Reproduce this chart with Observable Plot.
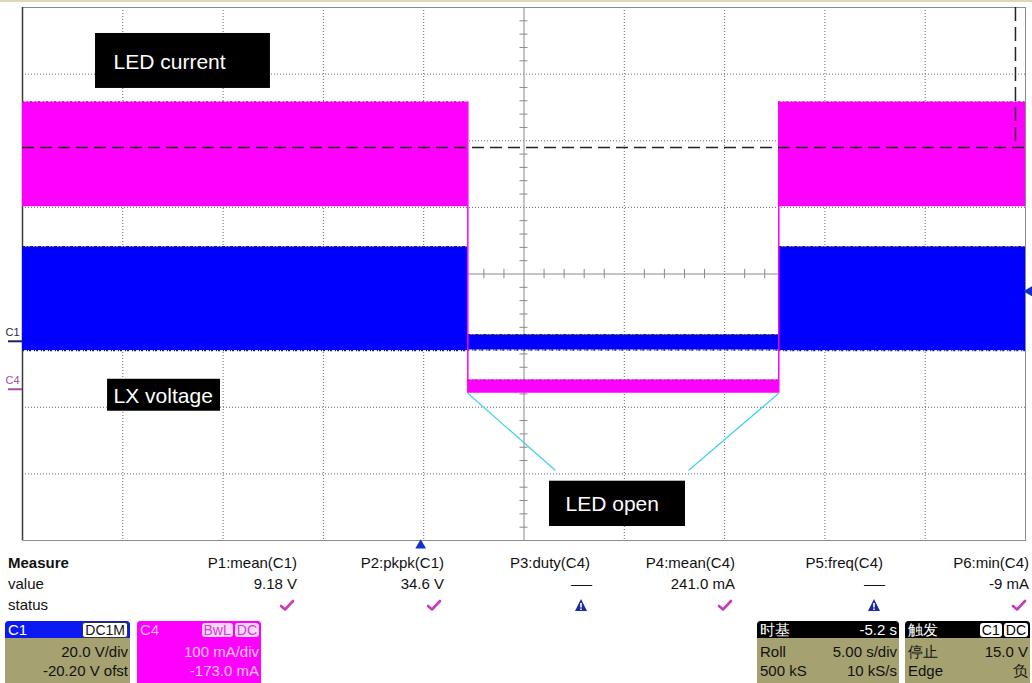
<!DOCTYPE html>
<html><head><meta charset="utf-8">
<script src="https://cdn.jsdelivr.net/npm/d3@7"></script>
<script src="https://cdn.jsdelivr.net/npm/@observablehq/plot@0.6"></script>
<style>
body{margin:0;background:#fff;font-family:"Liberation Sans",Arial,sans-serif;}
#wrap{position:relative;width:1032px;height:683px;overflow:hidden;background:#fff;}
#topline{position:absolute;left:0;top:0;width:1032px;height:2px;background:#dcd9ae;}
#scope{position:absolute;left:0;top:0;}
.t{position:absolute;font-size:15px;line-height:18px;color:#111;white-space:nowrap;}
.r{text-align:right;}
.box{position:absolute;top:621px;height:64px;border-radius:4px 4px 0 0;overflow:hidden;}
.hdr{position:absolute;left:0;right:0;top:0;height:17px;}
.ln{position:absolute;left:3px;right:2px;font-size:15px;line-height:17px;white-space:nowrap;}
.ln .a{position:absolute;left:0;}
.ln .b{position:absolute;right:0;}
.pill{display:inline-block;border-radius:3px;padding:0 2px;font-size:14px;line-height:14px;margin-left:2px;}
</style></head><body><div id="wrap"><div id="topline"></div><div id="scope"></div></div>
<script>
// ---------------- data ----------------
const gridTimes = [0,5,10,15,20,25,30,35,40,45,50];      // s (5 s/div)
const gridDivs = [-4,-3,-2,-1,0,1,2,3,4];                // divisions
const segStart = [0, 22.2, 37.7];                        // s
const segEnd   = [22.2, 37.7, 50];                       // s
const c1Top    = [28.3, 1.9, 28.3];                      // V  (LX voltage)
const c1Bottom = [-2.8, -2.6, -2.8];                     // V
const c4Top    = [431, 14, 431];                         // mA (LED current)
const c4Bottom = [274, -6, 274];                         // mA
const c1Scale = 20.0, c1Offset = -20.2;                  // V/div, V ofst
const c4Scale = 100, c4Offset = -173.0;                  // mA/div, mA ofst
const trigLevel = 15.0;                                  // V on C1
const trigTime = 19.85;                                  // s
const cursorLevel = 1.9;                                 // div
const cursorTime = 49.5;                                 // s
const labelText = ["LED current","LX voltage","LED open"];
const labelT1 = [3.64, 4.24, 26.27];
const labelT2 = [12.36, 9.87, 33.05];
const labelV1 = [3.61, -1.58, -3.11];
const labelV2 = [2.785, -2.06, -3.79];
const labelTx = [4.54, 4.54, 27.07];
const labelTy = [3.18, -1.83, -3.46];
const calloutT1 = [22.2, 37.7];
const calloutT2 = [26.57, 33.2];
const calloutV2 = [-2.95, -2.95];
const measureNames  = ["P1:mean(C1)","P2:pkpk(C1)","P3:duty(C4)","P4:mean(C4)","P5:freq(C4)","P6:min(C4)"];
const measureValues = ["9.18 V","34.6 V","---","241.0 mA","---","-9 mA"];
const measureStatus = ["ok","ok","warn","ok","warn","ok"];

// ---------------- helpers ----------------
const c1Div = v => (v + c1Offset) / c1Scale;
const c4Div = v => (v + c4Offset) / c4Scale;
const segs = segStart.map((s,i) => ({t1:s, t2:segEnd[i],
  c1a:c1Div(c1Top[i]), c1b:c1Div(c1Bottom[i]), c4a:c4Div(c4Top[i]), c4b:c4Div(c4Bottom[i])}));
const labels = labelText.map((s,i)=>({s, t1:labelT1[i], t2:labelT2[i], v1:labelV1[i], v2:labelV2[i], tx:labelTx[i], ty:labelTy[i]}));
const callouts = calloutT1.map((t,i)=>({t1:t, v1:c4Div(c4Bottom[1]), t2:calloutT2[i], v2:calloutV2[i]}));
const transitions = [segEnd[0], segStart[2]];
const minorT = d3.range(1,50).filter(t=>t%5!==0);
const minorV = d3.range(-19,20).filter(k=>k%5!==0).map(k=>k/5);
const FONT = "'Liberation Sans', Arial, sans-serif";

const chart = Plot.plot({
  width: 1032, height: 548,
  marginLeft: 22, marginRight: 7, marginTop: 7, marginBottom: 8,
  x: {domain:[0,50], axis:null},
  y: {domain:[-4,4], axis:null},
  style: {background:"transparent", fontFamily: FONT, overflow:"visible"},
  marks: [
    Plot.ruleX(gridTimes.filter(t=>t>0&&t<50&&t!==25), {stroke:"#6a6a6a", strokeDasharray:"1,2"}),
    Plot.ruleY(gridDivs.filter(v=>v>-4&&v<4&&v!==0), {stroke:"#6a6a6a", strokeDasharray:"1,2"}),
    Plot.ruleX([25], {stroke:"#8a8a8a"}),
    Plot.ruleY([0], {stroke:"#8a8a8a"}),
    Plot.ruleX(minorT, {y1:-0.07, y2:0.07, stroke:"#8a8a8a"}),
    Plot.ruleY(minorV, {x1:24.8, x2:25.2, stroke:"#8a8a8a"}),
    Plot.frame({stroke:"#8c8c8c"}),
    Plot.ruleX([0], {stroke:"#3a3a3a", strokeWidth:1.5}),
    // LX voltage (C1)
    Plot.rect(segs, {x1:"t1", x2:"t2", y1:"c1a", y2:"c1b", fill:"#0000ff"}),
    Plot.ruleY(segs, {y:"c1a", x1:"t1", x2:"t2", stroke:"#1a1a7a", strokeWidth:2, strokeDasharray:"3,2,1,2"}),
    Plot.ruleY(segs, {y:"c1b", x1:"t1", x2:"t2", stroke:"#1a1a7a", strokeWidth:1.5, strokeDasharray:"2,3,1,1"}),
    // LED current (C4)
    Plot.rect(segs, {x1:"t1", x2:"t2", y1:"c4a", y2:"c4b", fill:"#ff00ff"}),
    Plot.ruleY(segs, {y:"c4a", x1:"t1", x2:"t2", stroke:"#9a2a9a", strokeWidth:1.5, strokeDasharray:"2,3,1,2"}),
    Plot.ruleX(transitions, {y1:c4Div(c4Bottom[1]), y2:c4Div(c4Top[0]), stroke:"#ff00ff", strokeWidth:1.5}),
    // cursors
    Plot.ruleY([cursorLevel], {stroke:"#222", strokeWidth:1.5, strokeDasharray:"12,6"}),
    Plot.ruleX([cursorTime], {y1:4, y2:cursorLevel, stroke:"#222", strokeWidth:1.5, strokeDasharray:"14,6"}),
    // callouts
    Plot.link(callouts, {x1:"t1", y1:"v1", x2:"t2", y2:"v2", stroke:"#3fd0ee", strokeWidth:1.2}),
    Plot.rect(labels, {x1:"t1", x2:"t2", y1:"v1", y2:"v2", fill:"#000"}),
    Plot.text(labels, {x:"tx", y:"ty", text:"s", fill:"#fff", fontSize:21, textAnchor:"start", fontFamily: FONT}),
    // channel ground markers
    Plot.ruleY([c1Div(0)], {x1:-0.7, x2:0, stroke:"#1c2550", strokeWidth:2}),
    Plot.text(["C1"], {x:0, y:c1Div(0), dx:-17, dy:-9, textAnchor:"start", fontSize:11, fill:"#2a2a40"}),
    Plot.ruleY([c4Div(0)], {x1:-0.7, x2:0, stroke:"#a050a0", strokeWidth:2}),
    Plot.text(["C4"], {x:0, y:c4Div(0), dx:-17, dy:-9, textAnchor:"start", fontSize:11, fill:"#a050a0"}),
    // trigger markers
    Plot.dot([trigLevel], {x:50, y:d=>c1Div(d), dx:4, symbol:"triangle", rotate:-90, r:4, fill:"#1030d0", stroke:"none"}),
    Plot.dot([trigTime], {x:d=>d, y:-4, dy:5, symbol:"triangle", r:4, fill:"#1030d0", stroke:"none"})
  ]
});
document.getElementById("scope").appendChild(chart);

// ---------------- measurement panel ----------------
const wrap = document.getElementById("wrap");
function add(html, css, cls="t"){ const d=document.createElement("div"); d.className=cls; d.innerHTML=html; Object.assign(d.style, css); wrap.appendChild(d); return d; }
add("<b>Measure</b>", {left:"8px", top:"554px"});
add("value", {left:"8px", top:"575px"});
add("status", {left:"8px", top:"596px"});
const colRight = [297, 444, 590, 735, 883, 1029];
const okIcon = '<svg width="16" height="14" viewBox="0 0 16 14"><path d="M2 8 L6 11.5 L14 3" fill="none" stroke="#c83cb8" stroke-width="2.6" stroke-linecap="round" stroke-linejoin="round"/></svg>';
const warnIcon = '<svg width="14" height="14" viewBox="0 0 14 14"><path d="M7 1 L13 13 L1 13 Z" fill="#1c2a9c"/><rect x="6.2" y="5" width="1.6" height="4.5" fill="#fff"/><rect x="6.2" y="10.5" width="1.6" height="1.5" fill="#fff"/></svg>';
measureNames.forEach((n,i)=>{
  const right = (1032 - colRight[i]) + "px";
  add(n, {right, top:"554px"}, "t r");
  const v = measureValues[i];
  add(v === "---" ? '<span style="letter-spacing:-2px">–––</span>' : v, {right, top:"575px"}, "t r");
  add(measureStatus[i]==="ok" ? okIcon : warnIcon, {right:(1032 - colRight[i] + 2)+"px", top:"598px"}, "t r");
});

// channel / timebase boxes
function box(left, width, bg, hdrBg, hdrHtml, lines, lineColor){
  const b = document.createElement("div"); b.className="box";
  Object.assign(b.style, {left:left+"px", width:width+"px", background:bg});
  b.innerHTML = `<div class="hdr" style="background:${hdrBg}">${hdrHtml}</div>` +
    lines.map((l,i)=>`<div class="ln" style="top:${22+i*19}px;color:${lineColor}"><span class="a">${l[0]}</span><span class="b">${l[1]}</span></div>`).join("");
  wrap.appendChild(b);
}
const olive = "#a5a170";
box(5, 125, olive, "#0a1af0",
  `<div class="ln" style="top:0;color:#fff"><span class="a">C1</span><span class="b"><span class="pill" style="background:#fff;color:#111;border:1px solid #333">DC1M</span></span></div>`,
  [["","20.0 V/div"],["","-20.20 V ofst"]], "#111");
box(137, 124, "#ff00ff", "#ff00ff",
  `<div class="ln" style="top:0;color:#ffb8ff"><span class="a">C4</span><span class="b"><span class="pill" style="background:#fbd6fb;color:#d040d0">BwL</span><span class="pill" style="background:#fbd6fb;color:#d040d0">DC</span></span></div>`,
  [["","100 mA/div"],["","-173.0 mA"]], "#ffc8ff");
box(757, 142, olive, "#000",
  `<div class="ln" style="top:0;color:#fff"><span class="a">时基</span><span class="b">-5.2 s</span></div>`,
  [["Roll","5.00 s/div"],["500 kS","10 kS/s"]], "#111");
box(905, 125, olive, "#000",
  `<div class="ln" style="top:0;color:#fff"><span class="a">触发</span><span class="b"><span class="pill" style="background:#fff;color:#000">C1</span><span class="pill" style="background:#fff;color:#000">DC</span></span></div>`,
  [["停止","15.0 V"],["Edge","负"]], "#111");
</script></body></html>
